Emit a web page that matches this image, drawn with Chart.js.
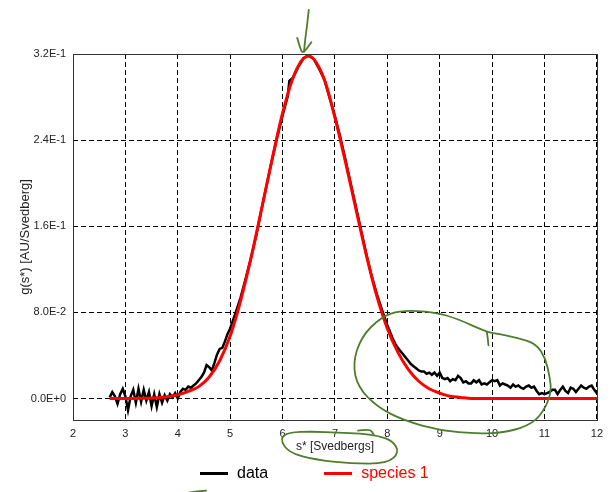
<!DOCTYPE html>
<html>
<head>
<meta charset="utf-8">
<script src="https://cdn.jsdelivr.net/npm/chart.js@4.4.0/dist/chart.umd.min.js"></script>
<style>
  html, body { margin: 0; padding: 0; background: #fff; }
  #wrap { position: relative; width: 610px; height: 492px; }
  #legend {
    position: absolute; left: 200px; top: 462px;
    display: flex;
    font: 16px 'Liberation Sans', Arial, sans-serif;
    line-height: 22px;
  }
  #legend .item { display: flex; align-items: center; margin-right: 56px; }
  #legend .swatch { display: inline-block; width: 28px; height: 3px; margin-right: 9px; }
</style>
</head>
<body>
<div id="wrap">
  <canvas id="chart" width="610" height="492"></canvas>
  <div id="legend"></div>
</div>
<script>
// s* values of the measured curve
const sData = [
  2.70, 2.75, 2.80, 2.85, 2.90, 2.95, 3.00, 3.05, 3.10, 3.15,
  3.20, 3.25, 3.30, 3.35, 3.40, 3.45, 3.50, 3.55, 3.60, 3.65,
  3.70, 3.75, 3.80, 3.85, 3.90, 3.95, 4.00, 4.05, 4.10, 4.15,
  4.20, 4.25, 4.30, 4.35, 4.40, 4.45, 4.50, 4.55, 4.60, 4.65,
  4.70, 4.75, 4.80, 4.85, 4.90, 4.95, 5.00, 5.10, 5.20, 5.30,
  5.40, 5.50, 5.60, 5.70, 5.80, 5.90, 6.00, 6.10, 6.13, 6.20,
  6.30, 6.40, 6.50, 6.60, 6.70, 6.80, 6.90, 7.00, 7.10, 7.20,
  7.30, 7.40, 7.50, 7.60, 7.70, 7.80, 7.90, 8.00, 8.05, 8.10,
  8.15, 8.20, 8.25, 8.30, 8.35, 8.40, 8.45, 8.50, 8.55, 8.60,
  8.65, 8.70, 8.75, 8.80, 8.85, 8.90, 8.95, 9.00, 9.05, 9.10,
  9.15, 9.20, 9.25, 9.30, 9.35, 9.40, 9.45, 9.50, 9.55, 9.60,
  9.65, 9.70, 9.75, 9.80, 9.85, 9.90, 9.95, 10.00, 10.05, 10.10,
  10.15, 10.20, 10.25, 10.30, 10.35, 10.40, 10.45, 10.50, 10.55, 10.60,
  10.65, 10.70, 10.75, 10.80, 10.85, 10.90, 10.95, 11.00, 11.05, 11.10,
  11.15, 11.20, 11.25, 11.30, 11.35, 11.40, 11.45, 11.50, 11.55, 11.60,
  11.65, 11.70, 11.75, 11.80, 11.85, 11.90, 11.95, 12.00
];
// g(s*) of the measured curve
const gData = [
  0.001, 0.006, 0.002, -0.005, 0.004, 0.009, 0.002, -0.011, 0.002, 0.008,
  -0.004, 0.009, -0.003, 0.008, -0.002, 0.006, -0.007, 0.004, -0.008, 0.004,
  -0.004, 0.003, -0.002, 0.004, 0.001, 0.005, 0.000, 0.006, 0.009, 0.008,
  0.011, 0.010, 0.012, 0.014, 0.017, 0.020, 0.024, 0.031, 0.029, 0.026,
  0.033, 0.041, 0.046, 0.047, 0.053, 0.060, 0.065, 0.079, 0.094, 0.112,
  0.131, 0.152, 0.176, 0.199, 0.222, 0.243, 0.263, 0.281, 0.295, 0.298,
  0.308, 0.316, 0.319, 0.315, 0.306, 0.296, 0.279, 0.262, 0.243, 0.222,
  0.200, 0.178, 0.156, 0.134, 0.114, 0.097, 0.082, 0.068, 0.062, 0.056,
  0.051, 0.047, 0.044, 0.041, 0.038, 0.035, 0.032, 0.030, 0.028, 0.026,
  0.025, 0.025, 0.023, 0.024, 0.022, 0.024, 0.021, 0.024, 0.019, 0.018,
  0.019, 0.016, 0.018, 0.017, 0.021, 0.019, 0.015, 0.016, 0.014, 0.014,
  0.017, 0.015, 0.017, 0.013, 0.014, 0.013, 0.015, 0.017, 0.016, 0.017,
  0.012, 0.014, 0.013, 0.012, 0.010, 0.013, 0.011, 0.012, 0.010, 0.009,
  0.011, 0.012, 0.010, 0.011, 0.007, 0.004, 0.005, 0.004, 0.005, 0.006,
  0.008, 0.008, 0.004, 0.008, 0.011, 0.007, 0.005, 0.010, 0.009, 0.006,
  0.009, 0.012, 0.010, 0.009, 0.011, 0.012, 0.008, 0.005
];
// fitted species 1
const sFit = [
  2.7, 3.0, 3.3, 3.6, 3.8, 4.0, 4.2, 4.4, 4.6, 4.8,
  5.0, 5.2, 5.4, 5.6, 5.8, 6.0, 6.2, 6.4, 6.5, 6.6,
  6.8, 7.0, 7.2, 7.4, 7.6, 7.8, 8.0, 8.2, 8.4, 8.6,
  8.8, 9.0, 9.2, 9.4, 9.6, 10.0, 11.0, 12.0
];
const gFit = [
  0, 0, 0.0002, 0.0007, 0.0016, 0.0034, 0.0066, 0.011, 0.020, 0.035,
  0.058, 0.091, 0.131, 0.176, 0.222, 0.265, 0.298, 0.316, 0.318, 0.315,
  0.296, 0.261, 0.220, 0.176, 0.133, 0.095, 0.065, 0.043, 0.027, 0.016,
  0.009, 0.005, 0.002, 0.001, 0, 0, 0, 0
];

const xTicks = [2, 3, 4, 5, 6, 7, 8, 9, 10, 11, 12];
const yTicks = [0, 0.08, 0.16, 0.24, 0.32];
const yTickLabels = ['0.0E+0', '8.0E-2', '1.6E-1', '2.4E-1', '3.2E-1'];
const seriesNames = ['data', 'species 1'];
const seriesColors = ['#000000', '#ff0000'];

// green pen marks drawn over the plot (s*, g units)
const penArrow = [[6.50, 0.361], [6.47, 0.347], [6.43, 0.333], [6.41, 0.322]];
const penArrowHead = [[6.28, 0.335], [6.33, 0.326], [6.39, 0.320], [6.55, 0.331]];
const penLoop = [
  [9.90, 0.0617], [9.33, 0.0742], [8.89, 0.0804], [8.26, 0.0820], [7.88, 0.0757],
  [7.50, 0.0571], [7.34, 0.0323], [7.44, 0.0105], [7.81, -0.0081], [8.32, -0.0205],
  [9.01, -0.0298], [9.71, -0.0329], [10.28, -0.0314], [10.78, -0.0236], [11.03, -0.0081],
  [11.13, 0.0075], [11.10, 0.0198], [11.02, 0.0372], [10.84, 0.0509], [10.47, 0.0565],
  [10.09, 0.0603]
];
const penTick = [[9.90, 0.0617], [9.92, 0.055], [9.93, 0.0494]];
const penEllipse = [
  [6.11, -0.0314], [5.95, -0.0373], [6.11, -0.0503], [6.62, -0.0568], [7.30, -0.0605],
  [8.00, -0.0605], [8.23, -0.0500], [8.10, -0.0391], [7.81, -0.0345], [7.49, -0.0326],
  [7.06, -0.0317], [6.58, -0.0307]
];
const penHook = [[7.44, -0.0298], [7.67, -0.0282], [7.74, -0.0335]];
const penStroke = [[4.22, -0.0875], [4.40, -0.0862], [4.54, -0.0857]];

function toPoints(xs, ys) {
  return xs.map((x, i) => ({ x: x, y: ys[i] }));
}

Chart.defaults.font.family = "'Liberation Sans', Arial, sans-serif";
Chart.defaults.color = '#222';

// solid box round the plot area
const framePlugin = {
  id: 'frame',
  afterDatasetsDraw(chart) {
    const { ctx, chartArea: a } = chart;
    ctx.save();
    ctx.strokeStyle = '#333';
    ctx.lineWidth = 1;
    ctx.strokeRect(Math.round(a.left) + 0.5, Math.round(a.top) + 0.5,
      Math.round(a.right - a.left), Math.round(a.bottom - a.top));
    ctx.restore();
  }
};

function mid(a, b) { return [(a[0] + b[0]) / 2, (a[1] + b[1]) / 2]; }

function penPath(chart, list, closed) {
  const { ctx, scales } = chart;
  const pts = list.map(p => [scales.x.getPixelForValue(p[0]), scales.y.getPixelForValue(p[1])]);
  const n = pts.length;
  ctx.beginPath();
  if (closed) {
    let m = mid(pts[n - 1], pts[0]);
    ctx.moveTo(m[0], m[1]);
    for (let i = 0; i < n; i++) {
      m = mid(pts[i], pts[(i + 1) % n]);
      ctx.quadraticCurveTo(pts[i][0], pts[i][1], m[0], m[1]);
    }
  } else {
    ctx.moveTo(pts[0][0], pts[0][1]);
    for (let i = 1; i < n - 1; i++) {
      const m = mid(pts[i], pts[i + 1]);
      ctx.quadraticCurveTo(pts[i][0], pts[i][1], m[0], m[1]);
    }
    ctx.lineTo(pts[n - 1][0], pts[n - 1][1]);
  }
  ctx.stroke();
}

// hand drawn green marks
const penPlugin = {
  id: 'pen',
  afterDraw(chart) {
    const ctx = chart.ctx;
    ctx.save();
    ctx.strokeStyle = '#4e7d2c';
    ctx.lineWidth = 1.8;
    ctx.lineCap = 'round';
    ctx.lineJoin = 'round';
    penPath(chart, penArrow, false);
    penPath(chart, penArrowHead, false);
    penPath(chart, penLoop, true);
    penPath(chart, penTick, false);
    penPath(chart, penEllipse, true);
    penPath(chart, penHook, false);
    penPath(chart, penStroke, false);
    ctx.restore();
  }
};

const chart = new Chart(document.getElementById('chart'), {
  type: 'line',
  data: {
    datasets: [
      {
        label: seriesNames[0],
        data: toPoints(sData, gData),
        borderColor: seriesColors[0],
        borderWidth: 2.5,
        pointRadius: 0,
        order: 2
      },
      {
        label: seriesNames[1],
        data: toPoints(sFit, gFit),
        borderColor: seriesColors[1],
        borderWidth: 3,
        pointRadius: 0,
        cubicInterpolationMode: 'monotone',
        order: 1
      }
    ]
  },
  options: {
    responsive: false,
    animation: false,
    devicePixelRatio: 1,
    layout: { padding: { top: 54, right: 9, bottom: 38, left: 0 } },
    plugins: {
      legend: { display: false },
      tooltip: { enabled: false }
    },
    scales: {
      x: {
        type: 'linear',
        min: 2,
        max: 12,
        afterBuildTicks: (scale) => { scale.ticks = xTicks.map(v => ({ value: v })); },
        afterFit: (scale) => { scale.height = 34; },
        grid: { color: '#000', lineWidth: 1, drawTicks: false },
        border: { display: false, dash: [5, 3] },
        ticks: { padding: 7, font: { size: 11 }, maxRotation: 0 },
        title: { display: true, text: 's* [Svedbergs]', font: { size: 12 }, padding: 0 }
      },
      y: {
        min: -0.02,
        max: 0.32,
        afterBuildTicks: (scale) => { scale.ticks = yTicks.map(v => ({ value: v })); },
        afterFit: (scale) => { scale.width = 73; },
        grid: { color: '#000', lineWidth: 1, drawTicks: false },
        border: { display: false, dash: [5, 3] },
        ticks: {
          padding: 7,
          font: { size: 11 },
          callback: (value) => yTickLabels[yTicks.indexOf(value)]
        },
        title: { display: true, text: 'g(s*) [AU/Svedberg]', font: { size: 13 }, padding: { top: 18, bottom: 0 } }
      }
    }
  },
  plugins: [framePlugin, penPlugin]
});

// legend under the plot, built from the datasets
const legendBox = document.getElementById('legend');
chart.data.datasets.forEach((ds) => {
  const item = document.createElement('div');
  item.className = 'item';
  const swatch = document.createElement('span');
  swatch.className = 'swatch';
  swatch.style.background = ds.borderColor;
  const text = document.createElement('span');
  text.textContent = ds.label;
  text.style.color = ds.borderColor;
  item.append(swatch, text);
  legendBox.append(item);
});
</script>
</body>
</html>
